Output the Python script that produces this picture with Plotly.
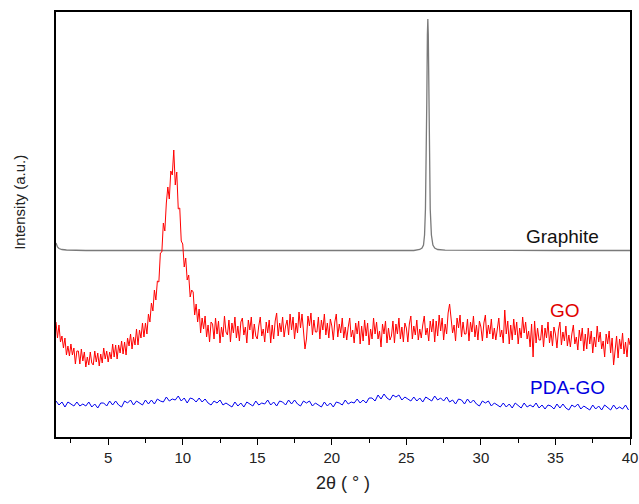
import numpy as np
import plotly.graph_objects as go

# ---------------- data (intensity in arbitrary units) -------------
graphite_x = [1.5, 1.6, 1.7, 1.9, 2.2, 2.6, 3.5, 10, 20, 25.5, 25.9, 26.05, 26.15, 26.22, 26.28,
              26.33, 26.37, 26.41, 26.44, 26.47, 26.51, 26.55, 26.6, 26.68, 26.78, 26.9, 27.1,
              27.6, 30, 35, 40]
graphite_y = [194, 190, 188.5, 187.5, 187, 186.8, 186.5, 186.5, 186.5, 186.5, 187.5, 189, 192, 202, 228,
              275, 335, 402, 418, 402, 335, 275, 228, 202, 192, 189, 187.5,
              186.8, 186.5, 186.5, 186.5]

# GO sampled every 0.1 deg from 1.5 to 40.0
go_start, go_step = 1.5, 0.1
go_y = [
    115, 99, 112, 95, 101,
    89, 99, 82, 91, 81, 93, 82, 89, 73, 86,
    86, 73, 88, 76, 85, 70, 80, 72, 85, 74,
    72, 86, 75, 84, 71, 83, 74, 89, 78, 86,
    75, 85, 78, 93, 80, 92, 78, 92, 84, 96,
    83, 95, 82, 99, 91, 103, 88, 100, 92, 108,
    92, 107, 99, 114, 100, 114, 103, 123, 115, 134,
    126, 147, 137, 156, 155, 184, 185, 214, 206, 234,
    250, 238, 266, 262, 287, 252, 265, 228, 229, 196,
    193, 170, 179, 157, 162, 140, 147, 145, 122, 133,
    115, 128, 104, 119, 108, 121, 100, 112, 95, 115,
    113, 98, 119, 103, 116, 94, 110, 100, 121, 105,
    102, 117, 95, 114, 104, 120, 99, 111, 96, 115,
    119, 102, 110, 94, 117, 107, 120, 98, 113, 101,
    98, 111, 120, 101, 108, 95, 115, 104, 117, 94,
    112, 98, 116, 124, 101, 114, 105, 120, 100, 111,
    117, 102, 123, 107, 120, 98, 114, 104, 125, 109,
    123, 106, 88, 98, 121, 111, 124, 102, 117, 105,
    105, 120, 98, 117, 107, 123, 102, 114, 99, 118,
    111, 97, 115, 123, 100, 113, 104, 119, 99, 110,
    97, 110, 119, 100, 107, 94, 114, 103, 116, 93,
    111, 96, 117, 101, 114, 92, 108, 98, 119, 103,
    115, 98, 106, 90, 113, 103, 116, 94, 109, 97,
    101, 116, 94, 113, 103, 119, 98, 110, 95, 114,
    109, 95, 113, 121, 98, 111, 102, 117, 97, 108,
    99, 112, 121, 102, 109, 96, 116, 105, 118, 95,
    116, 101, 122, 106, 119, 97, 113, 103, 124, 133,
    121, 104, 112, 96, 119, 109, 122, 100, 115, 103,
    103, 118, 96, 115, 105, 121, 100, 112, 97, 116,
    110, 96, 114, 122, 99, 112, 103, 118, 98, 109,
    97, 110, 119, 100, 107, 94, 127, 103, 116, 93,
    112, 97, 118, 102, 115, 93, 109, 99, 120, 104,
    115, 98, 106, 90, 113, 80, 116, 94, 109, 97,
    97, 112, 90, 109, 99, 115, 94, 106, 91, 110,
    103, 89, 107, 115, 92, 105, 96, 111, 91, 102,
    90, 103, 112, 93, 100, 87, 107, 96, 109, 86,
    103, 88, 109, 93, 106, 84, 100, 90, 111, 95,
    105, 88, 96, 80, 103, 93, 106, 84, 99, 72,
    86, 101, 79, 98, 88, 104, 83, 95, 80, 99,
    92,
]

# PDA-GO sampled every 0.2 deg from 1.5
pda_start, pda_step = 1.5, 0.2
pda_y = [
    36, 32, 35, 30, 35, 33, 31, 35, 31, 33,
    31, 35, 30, 33, 29, 34, 34, 31, 36, 32,
    36, 32, 30, 36, 34, 37, 32, 36, 34, 32,
    37, 33, 37, 33, 38, 36, 35, 40, 36, 38,
    37, 41, 36, 39, 34, 39, 38, 35, 39, 35,
    38, 34, 32, 36, 34, 37, 32, 34, 32, 30,
    35, 31, 34, 30, 35, 33, 31, 36, 32, 34,
    33, 37, 32, 35, 31, 36, 35, 32, 37, 33,
    37, 33, 31, 36, 34, 36, 31, 34, 32, 30,
    35, 31, 34, 30, 35, 34, 32, 37, 33, 35,
    34, 38, 34, 37, 34, 39, 39, 36, 42, 38,
    43, 39, 37, 42, 40, 42, 37, 40, 38, 36,
    40, 36, 39, 35, 40, 38, 36, 41, 37, 39,
    36, 40, 35, 37, 33, 38, 37, 33, 38, 34,
    37, 33, 31, 36, 34, 36, 31, 34, 32, 30,
    34, 30, 33, 29, 34, 31, 29, 34, 30, 32,
    30, 34, 29, 32, 28, 32, 31, 28, 33, 29,
    33, 29, 27, 32, 30, 33, 28, 31, 29, 27,
    32, 28, 31, 27, 32, 29, 27, 32, 28, 30,
    28, 32, 27,
]

x_ticks = [5, 10, 15, 20, 25, 30, 35, 40]
x_tick_text = ["5", "10", "15", "20", "25", "30", "35", "40"]
labels = ["Graphite", "GO", "PDA-GO"]

go_x = np.round(go_start + go_step * np.arange(len(go_y)), 3)
pda_x = np.round(pda_start + pda_step * np.arange(len(pda_y)), 3)

FONT = "Arial, Liberation Sans, sans-serif"

fig = go.Figure()
fig.add_trace(go.Scatter(x=graphite_x, y=graphite_y, mode="lines",
                         line=dict(color="#7a7a7a", width=1.3), showlegend=False))
fig.add_trace(go.Scatter(x=go_x, y=go_y, mode="lines",
                         line=dict(color="#ff0000", width=1.0), showlegend=False))
fig.add_trace(go.Scatter(x=pda_x, y=pda_y, mode="lines",
                         line=dict(color="#0000ee", width=1.0), showlegend=False))

fig.update_layout(
    width=639, height=504,
    margin=dict(l=56, r=9, t=12, b=67),
    paper_bgcolor="white", plot_bgcolor="white",
    font=dict(family=FONT, color="black"),
    showlegend=False,
)
fig.update_xaxes(
    range=[1.5, 40], tickvals=x_ticks, ticktext=x_tick_text, automargin=False,
    ticks="outside", ticklen=6, tickwidth=1.2, tickcolor="black",
    minor=dict(dtick=2.5, tick0=0, ticks="outside", ticklen=4, tickwidth=1, tickcolor="black"),
    showline=True, linecolor="black", linewidth=1.5, mirror=True,
    showgrid=False, zeroline=False,
    tickfont=dict(size=15, family=FONT, color="#222"),
    title=dict(text="2θ ( ° )", font=dict(size=18, family=FONT, color="#222"), standoff=12),
)
fig.update_yaxes(
    range=[0, 425], showticklabels=False, ticks="", automargin=False,
    showline=True, linecolor="black", linewidth=1.5, mirror=True,
    showgrid=False, zeroline=False,
)

fig.add_annotation(text="Intensity (a.u.)", xref="paper", yref="paper", x=-0.063, y=0.553,
                   textangle=-90, showarrow=False, xanchor="center", yanchor="middle",
                   font=dict(size=15, family=FONT, color="#222"))
fig.add_annotation(text=labels[0], xref="x", yref="y", x=35.5, y=201, showarrow=False,
                   font=dict(size=19, family=FONT, color="#111"))
fig.add_annotation(text=labels[1], xref="x", yref="y", x=35.66, y=127, showarrow=False,
                   font=dict(size=19, family=FONT, color="#e00000"))
fig.add_annotation(text=labels[2], xref="x", yref="y", x=35.8, y=50, showarrow=False,
                   font=dict(size=19, family=FONT, color="#0000e0"))

fig.write_html("out.html")
